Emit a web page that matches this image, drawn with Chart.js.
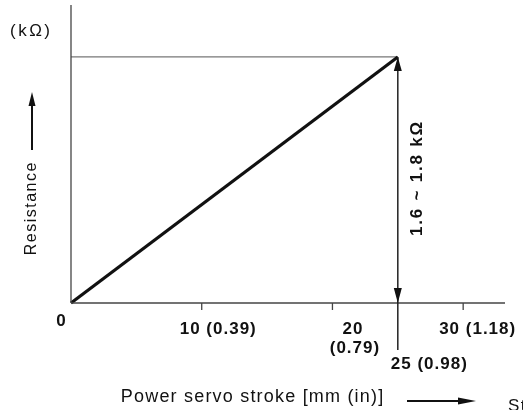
<!DOCTYPE html>
<html>
<head>
<meta charset="utf-8">
<script src="https://cdn.jsdelivr.net/npm/chart.js@4"></script>
<style>
html,body{margin:0;padding:0;background:#fff;}
#wrap{width:523px;height:410px;position:relative;}
</style>
</head>
<body>
<div id="wrap"><canvas id="c" width="523" height="410"></canvas></div>
<script>
// ---- data ----
const strokeMm = [0, 25];
const resistanceKohm = [0, 1.8];
const tickValues = [10, 20, 30];
const tickLabels = ["10 (0.39)", "20", "30 (1.18)"];
const tickSubLabels = ["", "(0.79)", ""];
const markStroke = 25;
const markStrokeLabel = "25 (0.98)";
const rangeLabel = "1.6 ~ 1.8 kΩ";
const yUnit = "(kΩ)";
const yTitle = "Resistance";
const xTitle = "Power servo stroke [mm (in)]";
const xMax = 33.2;
const yMax = 2.18;

const lineData = strokeMm.map((x, i) => ({x, y: resistanceKohm[i]}));
const topRef = [{x: strokeMm[0], y: resistanceKohm[1]}, {x: strokeMm[1], y: resistanceKohm[1]}];

function txt(ctx, s, x, y, font, spacing, align, baseline, rot) {
  ctx.save();
  ctx.font = font;
  ctx.fillStyle = '#111';
  if ('letterSpacing' in ctx) ctx.letterSpacing = spacing + 'px';
  ctx.textBaseline = baseline || 'middle';
  ctx.translate(x, y);
  if (rot) ctx.rotate(rot);
  let w = ctx.measureText(s).width;
  let dx = 0;
  if (align === 'center') dx = -w / 2 + spacing / 2;
  else if (align === 'right') dx = -w;
  ctx.textAlign = 'left';
  ctx.fillText(s, dx, 0);
  ctx.restore();
}

const deco = {
  id: 'deco',
  afterDatasetsDraw(chart) {
    const ctx = chart.ctx;
    const xs = chart.scales.x, ys = chart.scales.y;
    const ca = chart.chartArea;
    const x0 = xs.getPixelForValue(0), y0 = ys.getPixelForValue(0);
    ctx.save();
    ctx.strokeStyle = '#444';
    ctx.lineWidth = 1.3;
    // y axis
    ctx.beginPath(); ctx.moveTo(x0, ca.top); ctx.lineTo(x0, y0); ctx.stroke();
    // x axis
    ctx.beginPath(); ctx.moveTo(x0, y0); ctx.lineTo(ca.right, y0); ctx.stroke();
    // ticks
    tickValues.forEach(v => {
      const px = xs.getPixelForValue(v);
      ctx.beginPath(); ctx.moveTo(px, y0); ctx.lineTo(px, y0 + 7); ctx.stroke();
    });
    // marker vertical line
    const mx = xs.getPixelForValue(markStroke);
    const ytop = ys.getPixelForValue(resistanceKohm[1]);
    ctx.strokeStyle = '#222';
    ctx.lineWidth = 1.5;
    ctx.beginPath(); ctx.moveTo(mx, ytop); ctx.lineTo(mx, y0 + 47); ctx.stroke();
    ctx.fillStyle = '#111';
    // up arrowhead
    ctx.beginPath(); ctx.moveTo(mx, ytop); ctx.lineTo(mx - 4, ytop + 14); ctx.lineTo(mx + 4, ytop + 14); ctx.closePath(); ctx.fill();
    // down arrowhead
    ctx.beginPath(); ctx.moveTo(mx, y0); ctx.lineTo(mx - 4, y0 - 15); ctx.lineTo(mx + 4, y0 - 15); ctx.closePath(); ctx.fill();
    // y title arrow
    ctx.strokeStyle = '#111'; ctx.lineWidth = 2;
    ctx.beginPath(); ctx.moveTo(32, 104); ctx.lineTo(32, 150); ctx.stroke();
    ctx.beginPath(); ctx.moveTo(32, 92); ctx.lineTo(28.5, 106); ctx.lineTo(35.5, 106); ctx.closePath(); ctx.fill();
    // x title arrow
    ctx.lineWidth = 2;
    ctx.beginPath(); ctx.moveTo(407, 401); ctx.lineTo(462, 401); ctx.stroke();
    ctx.beginPath(); ctx.moveTo(476, 401); ctx.lineTo(458, 397.5); ctx.lineTo(458, 404.5); ctx.closePath(); ctx.fill();
    ctx.restore();

    const bold = 'bold 17px "Liberation Sans", Arial, sans-serif';
    const reg = '17px "Liberation Sans", Arial, sans-serif';
    // tick labels
    const offs = [16, 20, 14];
    tickValues.forEach((v, i) => {
      const px = xs.getPixelForValue(v);
      txt(ctx, tickLabels[i], px + offs[i], 329, bold, 1, 'center');
      if (tickSubLabels[i]) txt(ctx, tickSubLabels[i], px + offs[i] + 2, 348, bold, 1, 'center');
    });
    txt(ctx, "0", x0 - 10, 321, bold, 0, 'center');
    txt(ctx, markStrokeLabel, mx + 31, 364, bold, 1, 'center');
    // range label
    txt(ctx, rangeLabel, 417, 179, bold, 1.8, 'center', 'middle', -Math.PI / 2);
    // y unit & title
    txt(ctx, yUnit, 30, 31, reg, 2.5, 'center');
    txt(ctx, yTitle, 32, 209, '16px "Liberation Sans", Arial, sans-serif', 1.5, 'center', 'middle', -Math.PI / 2);
    // x title
    txt(ctx, xTitle, 252, 397, '18px "Liberation Sans", Arial, sans-serif', 1.2, 'center');
    txt(ctx, "Stroke", 508, 398, reg, 1.5, 'left', 'top');
  }
};

new Chart(document.getElementById('c'), {
  type: 'scatter',
  data: {
    datasets: [
      {data: lineData, showLine: true, borderColor: '#111', borderWidth: 3.2, pointRadius: 0, clip: false},
      {data: topRef, showLine: true, borderColor: '#777', borderWidth: 1.2, pointRadius: 0, clip: false}
    ]
  },
  options: {
    responsive: false,
    animation: false,
    devicePixelRatio: 1,
    layout: {padding: {left: 71, right: 18, top: 5, bottom: 107}},
    plugins: {legend: {display: false}, tooltip: {enabled: false}},
    scales: {
      x: {type: 'linear', min: 0, max: xMax, display: false},
      y: {type: 'linear', min: 0, max: yMax, display: false}
    }
  },
  plugins: [deco]
});
</script>
</body>
</html>
